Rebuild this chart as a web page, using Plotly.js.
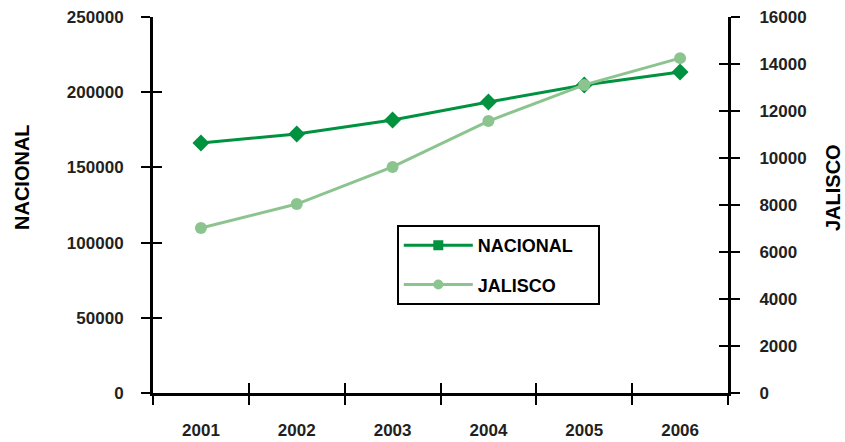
<!DOCTYPE html>
<html>
<head>
<meta charset="utf-8">
<script src="https://cdn.plot.ly/plotly-3.0.1.min.js"></script>
<style>html,body{margin:0;padding:0;background:#fff;}#chart{width:845px;height:442px;}</style>
</head>
<body>
<div id="chart"></div>
<script>
var years = ['2001', '2002', '2003', '2004', '2005', '2006'];
var nacional = [166200, 172200, 181500, 193500, 204800, 213400];
var jalisco = [7020, 8040, 9620, 11570, 13110, 14250];
var leftTicks = [0, 50000, 100000, 150000, 200000, 250000];
var rightTicks = [0, 2000, 4000, 6000, 8000, 10000, 12000, 14000, 16000];

var FONT = '"Liberation Sans", Arial, sans-serif';
var cNac = '#00923F';
var cJal = '#8CC48F';
var PAD = '\u00a0\u00a0\u00a0\u00a0';

var boundaries = years.map(function (_, i) { return i - 0.5; }).concat([years.length - 0.5]);

var traces = [
  {x: years, y: nacional, type: 'scatter', mode: 'lines+markers', name: 'NACIONAL',
   line: {color: cNac, width: 3}, marker: {symbol: 'diamond', size: 13, color: cNac},
   xaxis: 'x', yaxis: 'y', showlegend: false},
  {x: years, y: jalisco, type: 'scatter', mode: 'lines+markers', name: 'JALISCO',
   line: {color: cJal, width: 3}, marker: {symbol: 'circle', size: 12, color: cJal},
   xaxis: 'x', yaxis: 'y2', showlegend: false},
  {x: [null], y: [null], type: 'scatter', mode: 'lines+markers', name: 'NACIONAL' + PAD,
   line: {color: cNac, width: 3}, marker: {symbol: 'square', size: 10, color: cNac},
   legendgroup: 'a', showlegend: true},
  {x: [null], y: [null], type: 'scatter', mode: 'lines+markers', name: 'JALISCO' + PAD,
   line: {color: cJal, width: 3}, marker: {symbol: 'circle', size: 10, color: cJal},
   legendgroup: 'b', showlegend: true},
  // empty carriers so the overlay tick axes get drawn
  {x: [null], y: [null], type: 'scatter', mode: 'markers', xaxis: 'x2', yaxis: 'y', showlegend: false, hoverinfo: 'skip'},
  {x: [null], y: [null], type: 'scatter', mode: 'markers', xaxis: 'x', yaxis: 'y3', showlegend: false, hoverinfo: 'skip'},
  {x: [null], y: [null], type: 'scatter', mode: 'markers', xaxis: 'x', yaxis: 'y4', showlegend: false, hoverinfo: 'skip'}
];

var tickFont = {family: FONT, size: 17, color: '#231f20', weight: 'bold'};
var titleFont = {family: FONT, size: 20, color: '#000', weight: 'bold'};

var layout = {
  width: 845, height: 442,
  margin: {l: 153, r: 117, t: 17, b: 49},
  paper_bgcolor: '#fff', plot_bgcolor: '#fff',
  font: {family: FONT, color: '#231f20'},
  showlegend: true,
  legend: {
    x: 0.424, y: 0.447, xanchor: 'left', yanchor: 'top',
    bordercolor: '#000', borderwidth: 2, bgcolor: '#fff',
    font: {family: FONT, size: 18, color: '#000', weight: 'bold'},
    traceorder: 'grouped', tracegroupgap: 13, itemwidth: 69
  },
  xaxis: {
    type: 'category', range: [-0.5, 5.5], tickson: 'boundaries',
    showline: true, linecolor: '#000', linewidth: 3,
    ticks: 'outside', ticklen: 9, tickwidth: 2, tickcolor: '#000',
    tickfont: tickFont, ticklabelstandoff: 20,
    showgrid: false, zeroline: false
  },
  xaxis2: {
    overlaying: 'x', anchor: 'y', range: [-0.5, 5.5], tickmode: 'array', tickvals: boundaries,
    ticks: 'inside', ticklen: 10, tickwidth: 2, tickcolor: '#000', side: 'bottom',
    showticklabels: false, showline: false, showgrid: false, zeroline: false
  },
  yaxis: {
    range: [0, 250000], tickmode: 'array', tickvals: leftTicks, tickformat: 'd',
    showline: true, linecolor: '#000', linewidth: 3,
    ticks: 'outside', ticklen: 9, tickwidth: 2, tickcolor: '#000',
    tickfont: tickFont, ticklabelstandoff: 14,
    showgrid: false, zeroline: false
  },
  yaxis3: {
    overlaying: 'y', side: 'left', anchor: 'x', range: [0, 250000], tickmode: 'array', tickvals: leftTicks,
    ticks: 'inside', ticklen: 9, tickwidth: 2, tickcolor: '#000',
    showticklabels: false, showline: false, showgrid: false, zeroline: false
  },
  yaxis2: {
    overlaying: 'y', side: 'right', range: [0, 16000], tickmode: 'array', tickvals: rightTicks, tickformat: 'd',
    showline: true, linecolor: '#000', linewidth: 3,
    ticks: 'outside', ticklen: 9, tickwidth: 2, tickcolor: '#000',
    tickfont: tickFont, ticklabelstandoff: 16,
    showgrid: false, zeroline: false
  },
  yaxis4: {
    overlaying: 'y', side: 'right', anchor: 'x', range: [0, 16000], tickmode: 'array', tickvals: rightTicks,
    ticks: 'inside', ticklen: 9, tickwidth: 2, tickcolor: '#000',
    showticklabels: false, showline: false, showgrid: false, zeroline: false
  },
  annotations: [
    {text: 'NACIONAL', xref: 'paper', yref: 'paper', x: (22 - 153) / 575, y: (393 - 177) / 376,
     xanchor: 'center', yanchor: 'middle', textangle: -90, showarrow: false, font: titleFont},
    {text: 'JALISCO', xref: 'paper', yref: 'paper', x: (833 - 153) / 575, y: (393 - 188) / 376,
     xanchor: 'center', yanchor: 'middle', textangle: -90, showarrow: false, font: titleFont}
  ]
};

Plotly.newPlot('chart', traces, layout, {displayModeBar: false, staticPlot: true});
</script>
</body>
</html>
